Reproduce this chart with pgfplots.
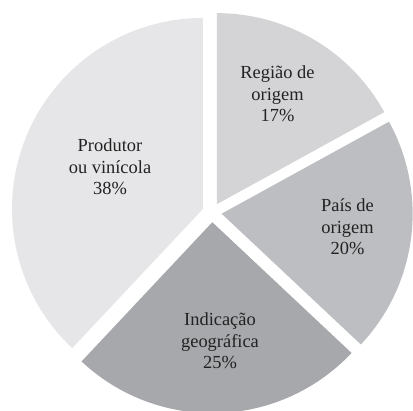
\documentclass[border=0pt]{standalone}
\usepackage{pgfplots}
\pgfplotsset{compat=1.18}
\usepackage{fontspec}
\setmainfont{LiberationSerif}[Extension=.ttf, UprightFont=*-Regular, BoldFont=*-Bold, ItalicFont=*-Italic, BoldItalicFont=*-BoldItalic]
\definecolor{cProd}{HTML}{E6E6E8}
\definecolor{cReg}{HTML}{D4D4D6}
\definecolor{cPais}{HTML}{BDBEC1}
\definecolor{cInd}{HTML}{A6A8AB}
\definecolor{txt}{HTML}{222222}
% shares in percent, clockwise from the top
\def\pReg{17}\def\pPais{20}\def\pInd{25}\def\pProd{38}
\def\R{191}\def\D{9.7}
\pgfmathsetmacro{\aA}{90}
\pgfmathsetmacro{\aB}{\aA-3.6*\pReg}
\pgfmathsetmacro{\aC}{\aB-3.6*\pPais}
\pgfmathsetmacro{\aD}{\aC-3.6*\pInd}
\pgfmathsetmacro{\aE}{\aD-3.6*\pProd}
\newcommand{\slice}[3]{%
  \pgfmathsetmacro{\sliceMid}{(#2+#3)/2}%
  \pgfmathsetmacro{\ox}{\D*cos(\sliceMid)}%
  \pgfmathsetmacro{\oy}{\D*sin(\sliceMid)}%
  \edef\sliceCmd{\noexpand\addplot[fill=#1, draw=none, domain=#3:#2, samples=120, variable=\noexpand\tt]
    ({\ox+\R*cos(\noexpand\tt)},{\oy+\R*sin(\noexpand\tt)}) -- (axis cs:\ox,\oy) -- cycle;}%
  \sliceCmd}
\begin{document}
\begin{tikzpicture}
\begin{axis}[scale only axis, width=413bp, height=411bp,
  xmin=-212, xmax=201, ymin=-198.5, ymax=212.5,
  axis lines=none, clip=true]
\slice{cReg}{\aA}{\aB}
\slice{cPais}{\aB}{\aC}
\slice{cInd}{\aC}{\aD}
\slice{cProd}{\aD}{\aE}
\begin{scope}[every node/.style={align=center, text=txt, font=\fontsize{18.5}{21.5}\selectfont}]
\node at (axis cs:-102,45.5) {Produtor\\ou vinícola\\38\%};
\node at (axis cs:65.5,118.5) {Região de\\origem\\17\%};
\node at (axis cs:135.5,-14.5) {País de\\origem\\20\%};
\node at (axis cs:8,-128.5) {Indicação\\geográfica\\25\%};
\end{scope}
\end{axis}
\path (current axis.south west) rectangle (current axis.north east);
\end{tikzpicture}
\end{document}
